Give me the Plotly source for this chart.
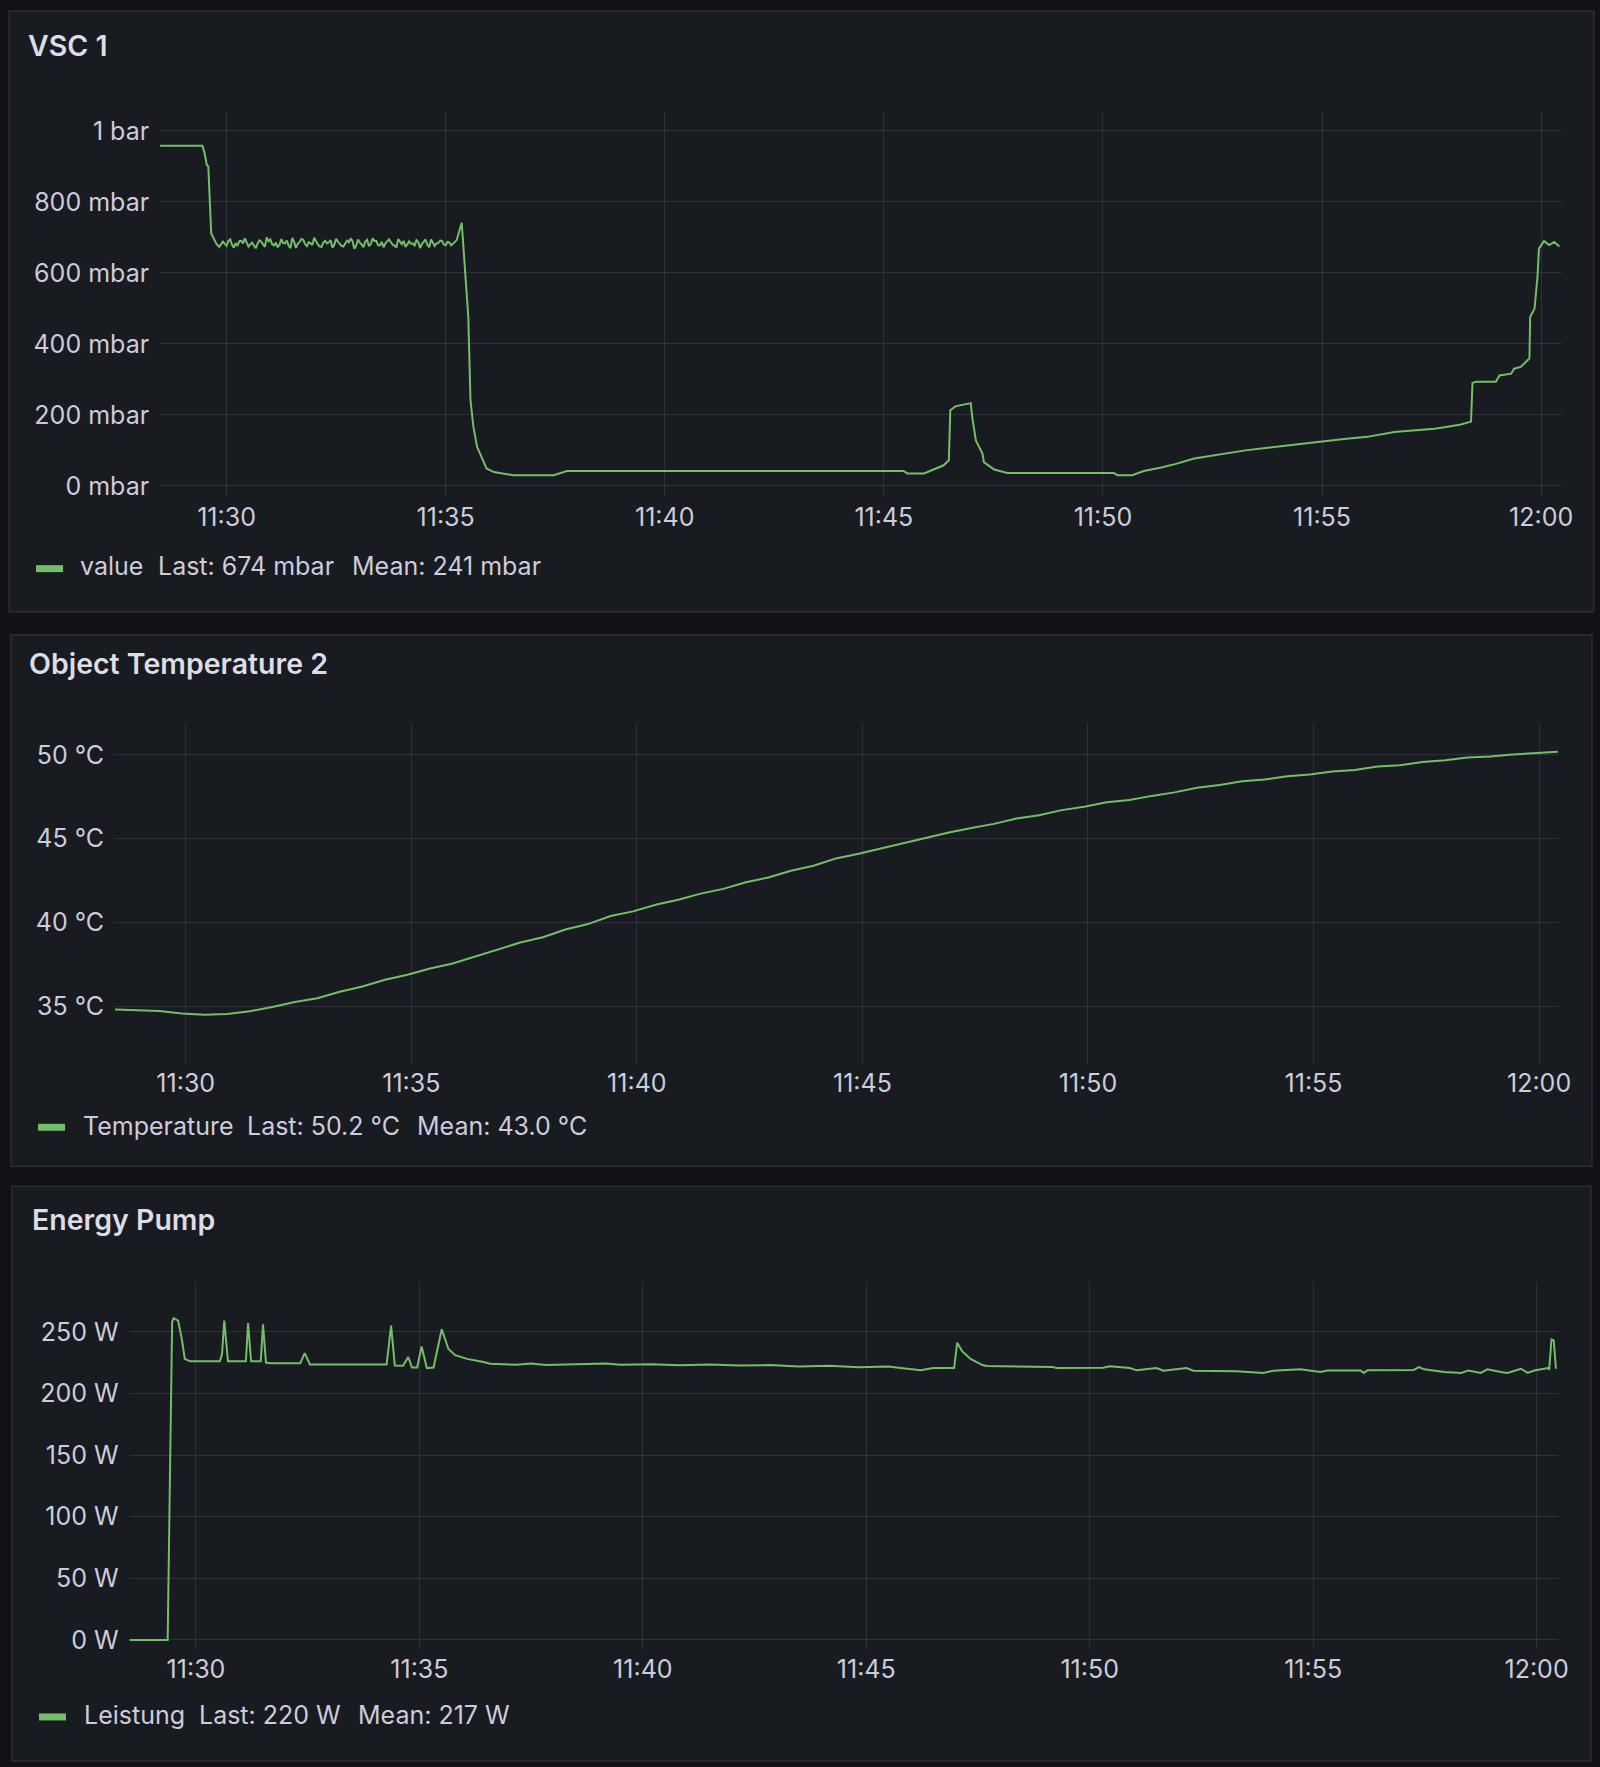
import plotly.graph_objects as go

DAY = "2024-01-01 "

# ---------------- data ----------------
vsc_time = [
    "11:28:28", "11:29:27", "11:29:30", "11:29:33", "11:29:35", "11:29:37", "11:29:39", "11:29:46", "11:29:50",
    "11:29:55", "11:29:57.5",
    "11:30:00", "11:30:02.5", "11:30:05", "11:30:07.5", "11:30:10", "11:30:12.5", "11:30:15", "11:30:17.5",
    "11:30:20", "11:30:22.5", "11:30:25", "11:30:27.5", "11:30:30", "11:30:32.5", "11:30:35", "11:30:37.5",
    "11:30:40", "11:30:42.5", "11:30:45", "11:30:47.5", "11:30:50", "11:30:52.5", "11:30:55", "11:30:57.5",
    "11:31:00", "11:31:02.5", "11:31:05", "11:31:07.5", "11:31:10", "11:31:12.5", "11:31:15", "11:31:17.5",
    "11:31:20", "11:31:22.5", "11:31:25", "11:31:27.5", "11:31:30", "11:31:32.5", "11:31:35", "11:31:37.5",
    "11:31:40", "11:31:42.5", "11:31:45", "11:31:47.5", "11:31:50", "11:31:52.5", "11:31:55", "11:31:57.5",
    "11:32:00", "11:32:02.5", "11:32:05", "11:32:07.5", "11:32:10", "11:32:12.5", "11:32:15", "11:32:17.5",
    "11:32:20", "11:32:22.5", "11:32:25", "11:32:27.5", "11:32:30", "11:32:32.5", "11:32:35", "11:32:37.5",
    "11:32:40", "11:32:42.5", "11:32:45", "11:32:47.5", "11:32:50", "11:32:52.5", "11:32:55", "11:32:57.5",
    "11:33:00", "11:33:02.5", "11:33:05", "11:33:07.5", "11:33:10", "11:33:12.5", "11:33:15", "11:33:17.5",
    "11:33:20", "11:33:22.5", "11:33:25", "11:33:27.5", "11:33:30", "11:33:32.5", "11:33:35", "11:33:37.5",
    "11:33:40", "11:33:42.5", "11:33:45", "11:33:47.5", "11:33:50", "11:33:52.5", "11:33:55", "11:33:57.5",
    "11:34:00", "11:34:02.5", "11:34:05", "11:34:07.5", "11:34:10", "11:34:12.5", "11:34:15", "11:34:17.5",
    "11:34:20", "11:34:22.5", "11:34:25", "11:34:27.5", "11:34:30", "11:34:32.5", "11:34:35", "11:34:37.5",
    "11:34:40", "11:34:42.5", "11:34:45", "11:34:47.5", "11:34:50", "11:34:52.5", "11:34:55", "11:34:57.5",
    "11:35:00", "11:35:02.5", "11:35:05", "11:35:07.5", "11:35:10", "11:35:12.5", "11:35:15",
    "11:35:22", "11:35:27", "11:35:31", "11:35:34", "11:35:38", "11:35:43", "11:35:50", "11:35:56", "11:36:06",
    "11:36:33", "11:37:28", "11:37:46", "11:45:27", "11:45:32", "11:45:55", "11:46:08", "11:46:22", "11:46:29",
    "11:46:31", "11:46:38", "11:46:45", "11:46:59", "11:47:01", "11:47:06", "11:47:15", "11:47:17", "11:47:31",
    "11:47:49", "11:50:15", "11:50:20", "11:50:40", "11:50:56", "11:51:20", "11:51:40", "11:52:05", "11:52:25",
    "11:52:50", "11:53:15", "11:53:40", "11:54:00", "11:54:22", "11:54:45", "11:55:07", "11:55:30", "11:56:02",
    "11:56:20", "11:56:39", "11:57:00", "11:57:34", "11:57:50", "11:58:10", "11:58:24", "11:58:26", "11:58:31",
    "11:58:58", "11:59:03", "11:59:19", "11:59:23", "11:59:32", "11:59:39", "11:59:44", "11:59:45", "11:59:51",
    "11:59:55", "11:59:57", "12:00:04", "12:00:11", "12:00:18", "12:00:25",
]
vsc_mbar = [
    958, 958, 936, 903, 900, 804, 711, 682, 673,
    688, 681,
    676, 690, 694, 679, 671, 684, 676, 689,
    690, 683, 697, 686, 674, 680, 685, 677,
    669, 682, 692, 688, 681, 673, 700, 689,
    694, 680, 677, 685, 672, 679, 695, 684,
    683, 691, 676, 670, 698, 687, 670, 682,
    687, 695, 693, 681, 675, 686, 684, 678,
    699, 688, 680, 674, 673, 685, 690, 683,
    686, 692, 671, 679, 696, 688, 682, 676,
    674, 683, 691, 686, 697, 689, 668, 677,
    694, 685, 680, 672, 688, 693, 675, 681,
    697, 690, 690, 678, 678, 687, 672, 683,
    690, 694, 686, 679, 677, 671, 695, 686,
    681, 690, 673, 680, 689, 682, 683, 676,
    692, 687, 670, 681, 687, 694, 679, 672,
    694, 685, 676, 683, 684, 691, 690, 680,
    678, 687, 686, 677, 682, 689, 692,
    741, 599, 476, 241, 166, 110, 77, 49, 39,
    30, 30, 42, 42, 35, 35, 45, 58, 72,
    213, 224, 227, 233, 194, 128, 91, 67, 46,
    36, 36, 30, 30, 42, 52, 62, 77, 84,
    93, 100, 106, 111, 117, 122, 128, 132, 138,
    145, 152, 155, 161, 166, 173, 181, 290, 293,
    293, 311, 316, 330, 335, 349, 359, 476, 499,
    588, 668, 690, 678, 687, 674,
]

temp_time = [
    "11:28:25", "11:28:55", "11:29:25", "11:29:55", "11:30:25", "11:30:55", "11:31:25", "11:31:55", "11:32:25",
    "11:32:55", "11:33:25", "11:33:55", "11:34:25", "11:34:55", "11:35:25", "11:35:55", "11:36:25", "11:36:55",
    "11:37:25", "11:37:55", "11:38:25", "11:38:55", "11:39:25", "11:39:55", "11:40:25", "11:40:55", "11:41:25",
    "11:41:55", "11:42:25", "11:42:55", "11:43:25", "11:43:55", "11:44:25", "11:44:55", "11:45:25", "11:45:55",
    "11:46:25", "11:46:55", "11:47:25", "11:47:55", "11:48:25", "11:48:55", "11:49:25", "11:49:55", "11:50:25",
    "11:50:55", "11:51:25", "11:51:55", "11:52:25", "11:52:55", "11:53:25", "11:53:55", "11:54:25", "11:54:55",
    "11:55:25", "11:55:55", "11:56:25", "11:56:55", "11:57:25", "11:57:55", "11:58:25", "11:58:55", "11:59:25",
    "11:59:55", "12:00:25",
]
temp_c = [
    34.80, 34.76, 34.72, 34.56, 34.49, 34.53, 34.70, 34.95, 35.25,
    35.48, 35.86, 36.18, 36.58, 36.88, 37.25, 37.55, 37.98, 38.40,
    38.80, 39.12, 39.58, 39.90, 40.38, 40.66, 41.05, 41.35, 41.72,
    42.00, 42.40, 42.68, 43.08, 43.38, 43.82, 44.10, 44.42, 44.70,
    45.05, 45.36, 45.64, 45.88, 46.20, 46.40, 46.70, 46.90, 47.17,
    47.30, 47.55, 47.76, 48.03, 48.20, 48.42, 48.53, 48.72, 48.82,
    49.00, 49.10, 49.30, 49.38, 49.57, 49.68, 49.84, 49.90, 50.02,
    50.08, 50.18,
]

pump_time = [
    "11:28:30", "11:29:22", "11:29:28", "11:29:30", "11:29:36", "11:29:41", "11:29:45", "11:29:52", "11:30:32",
    "11:30:35", "11:30:38", "11:30:43", "11:31:07", "11:31:10", "11:31:14", "11:31:27", "11:31:30", "11:31:34",
    "11:31:39", "11:32:20", "11:32:26", "11:32:33", "11:34:16", "11:34:22", "11:34:27", "11:34:38", "11:34:45",
    "11:34:50", "11:34:57", "11:35:03", "11:35:10", "11:35:19", "11:35:30", "11:35:39", "11:35:48", "11:36:04",
    "11:36:26", "11:36:35", "11:37:10", "11:37:30", "11:37:50", "11:38:30", "11:39:10", "11:39:30", "11:40:10",
    "11:40:50", "11:41:30", "11:42:10", "11:42:50", "11:43:30", "11:44:10", "11:44:50", "11:45:30", "11:45:46",
    "11:46:13", "11:46:30", "11:46:49", "11:46:58", "11:47:02", "11:47:09", "11:47:20", "11:47:36", "11:47:42",
    "11:49:10", "11:49:15", "11:50:18", "11:50:27", "11:50:54", "11:51:03", "11:51:30", "11:51:39", "11:52:10",
    "11:52:19", "11:53:17", "11:53:53", "11:54:06", "11:54:43", "11:55:10", "11:55:19", "11:56:04", "11:56:08",
    "11:56:13", "11:57:15", "11:57:22", "11:57:29", "11:57:56", "11:58:19", "11:58:28", "11:58:45", "11:58:54",
    "11:59:12", "11:59:21", "11:59:39", "11:59:48", "11:59:57", "12:00:15", "12:00:17", "12:00:20", "12:00:23",
    "12:00:26",
]
pump_w = [
    0, 0, 258, 261, 259, 244, 228, 226, 226,
    232, 259, 226, 226, 257, 226, 226, 256, 225,
    224.5, 224.5, 232.7, 223.5, 223.5, 255, 222.7, 222.5, 229.5,
    221, 221, 238, 220.5, 221, 252, 236, 231, 228,
    225.4, 224, 223.2, 224.2, 223.0, 223.4, 224.3, 223.2, 223.6,
    222.8, 223.4, 222.6, 223.0, 221.8, 222.4, 221.2, 221.8, 220.6,
    218.7, 220.6, 220.4, 220.6, 241, 234, 228, 223, 222.2,
    221.5, 220.6, 220.8, 222, 220.6, 218.7, 220.6, 218.4, 220.6,
    218.4, 218.0, 216.5, 218.4, 219.5, 217.3, 218.5, 218.5, 216.6,
    218.8, 219.0, 221.4, 219.5, 217.3, 216.6, 218.5, 216.6, 219.5,
    217.3, 216.6, 220.0, 216.6, 218.5, 220.6, 219.8, 243.8, 243.0,
    220.0,
]

vsc_ticks = [0, 200, 400, 600, 800, 1000]
vsc_ticktext = ["0 mbar", "200 mbar", "400 mbar", "600 mbar", "800 mbar", "1 bar"]
temp_ticks = [35, 40, 45, 50]
temp_ticktext = ["35 °C", "40 °C", "45 °C", "50 °C"]
pump_ticks = [0, 50, 100, 150, 200, 250]
pump_ticktext = ["0 W", "50 W", "100 W", "150 W", "200 W", "250 W"]

titles = ["VSC 1", "Object Temperature 2", "Energy Pump"]
legend_names = ["value", "Temperature", "Leistung"]
legend_last = ["Last: 674 mbar", "Last: 50.2 °C", "Last: 220 W"]
legend_mean = ["Mean: 241 mbar", "Mean: 43.0 °C", "Mean: 217 W"]

# ---------------- styling / layout ----------------
REF_W, REF_H = 1600, 1767          # reference design grid (px)
FIG_W, FIG_H = 1613, 1775          # figure size
BG = "#111217"
PANEL = "#181b1f"
BORDER = "#2b2e34"
GRID = "rgba(204,204,220,0.12)"
TEXT = "#ccccdc"
TITLE = "#dcdde6"
GREEN = "#73bf69"
FONT = "Inter, 'Open Sans', sans-serif"
TICK_SIZE = 25
LEG_SIZE = 25
TITLE_SIZE = 28.5


def fx(x):
    return x / REF_W


def fy(y):
    return 1 - y / REF_H


panels = [
    dict(box=(9, 11, 1593, 611), plot=(160, 111.5, 1560.6, 495.5),
         xr=("11:28:29", "12:00:28"), yr=(-28.7, 1054), xstand=4,
         title=(26, 45.5), sw=(36, 63, 568), leg=(77.5, 156, 350.2, 565.5),
         ticks=(vsc_ticks, vsc_ticktext), data=(vsc_time, vsc_mbar)),
    dict(box=(11, 634, 1591, 1165), plot=(115, 722.5, 1558.4, 1063),
         xr=("11:28:26", "12:00:27"), yr=(31.54, 51.88), xstand=2,
         title=(27, 663), sw=(38, 65, 1126), leg=(81, 244.8, 414.4, 1125),
         ticks=(temp_ticks, temp_ticktext), data=(temp_time, temp_c)),
    dict(box=(12, 1185, 1590, 1759), plot=(129.6, 1281, 1557.2, 1646.7),
         xr=("11:28:31", "12:00:29"), yr=(-7, 290), xstand=3,
         title=(29.5, 1218), sw=(39, 66, 1715), leg=(82, 197, 355.5, 1713.5),
         ticks=(pump_ticks, pump_ticktext), data=(pump_time, pump_w)),
]

fig = go.Figure()
shapes = []
annotations = []
layout_axes = {}

for i, p in enumerate(panels):
    n = "" if i == 0 else str(i + 1)
    t, v = p["data"]
    fig.add_trace(go.Scatter(
        x=[DAY + s for s in t], y=v, mode="lines",
        line=dict(color=GREEN, width=2),
        xaxis="x" + n, yaxis="y" + n, showlegend=False, hoverinfo="skip",
    ))
    x0, y0, x1, y1 = p["box"]
    shapes.append(dict(type="rect", xref="paper", yref="paper", layer="below",
                       x0=fx(x0), x1=fx(x1), y0=fy(y1), y1=fy(y0),
                       fillcolor=PANEL, line=dict(color=BORDER, width=1.5)))
    px0, py0, px1, py1 = p["plot"]
    layout_axes["xaxis" + n] = dict(
        type="date", domain=[fx(px0), fx(px1)], anchor="y" + n,
        range=[DAY + p["xr"][0], DAY + p["xr"][1]],
        tick0=DAY + "11:30:00", dtick=300000, tickformat="%H:%M",
        showgrid=True, gridcolor=GRID, gridwidth=1, zeroline=False, showline=False,
        ticks="", ticklabelstandoff=p["xstand"],
        tickfont=dict(family=FONT, size=TICK_SIZE, color=TEXT), fixedrange=True,
    )
    layout_axes["yaxis" + n] = dict(
        domain=[fy(py1), fy(py0)], anchor="x" + n, range=list(p["yr"]),
        tickmode="array", tickvals=p["ticks"][0], ticktext=p["ticks"][1],
        showgrid=True, gridcolor=GRID, gridwidth=1, zeroline=False, showline=False,
        ticks="", ticklabelstandoff=10,
        tickfont=dict(family=FONT, size=TICK_SIZE, color=TEXT), fixedrange=True,
    )
    tx, ty = p["title"]
    annotations.append(dict(xref="paper", yref="paper", x=fx(tx), y=fy(ty),
                            xanchor="left", yanchor="middle", showarrow=False,
                            text=titles[i],
                            font=dict(family=FONT, size=TITLE_SIZE, color=TITLE, weight=600)))
    sx0, sx1, sy = p["sw"]
    shapes.append(dict(type="rect", xref="paper", yref="paper", layer="above",
                       x0=fx(sx0), x1=fx(sx1), y0=fy(sy + 3.5), y1=fy(sy - 3.5),
                       fillcolor=GREEN, line=dict(width=0)))
    lx1, lx2, lx3, ly = p["leg"]
    for lx, txt in ((lx1, legend_names[i]), (lx2, legend_last[i]), (lx3, legend_mean[i])):
        annotations.append(dict(xref="paper", yref="paper", x=fx(lx), y=fy(ly),
                                xanchor="left", yanchor="middle", showarrow=False,
                                text=txt, font=dict(family=FONT, size=LEG_SIZE, color=TEXT)))

fig.update_layout(
    width=FIG_W, height=FIG_H, margin=dict(l=0, r=0, t=0, b=0),
    paper_bgcolor=BG, plot_bgcolor="rgba(0,0,0,0)",
    shapes=shapes, annotations=annotations, showlegend=False,
    **layout_axes,
)

fig.write_html(
    "out.html",
    post_script=(
        "document.documentElement.style.margin='0';"
        "document.body.style.margin='0';document.body.style.padding='0';"
        "document.body.style.background='#111217';"
    ),
)
